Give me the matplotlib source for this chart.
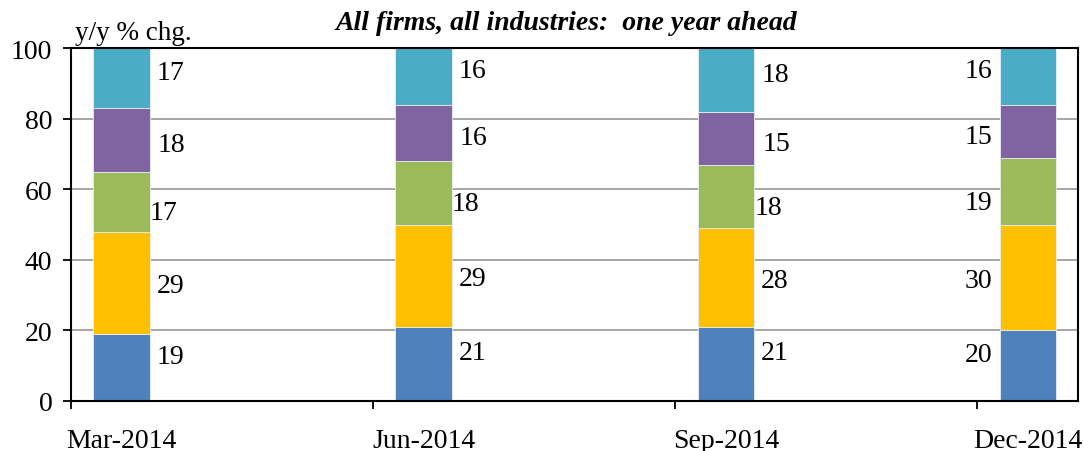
import matplotlib
matplotlib.use("Agg")
import matplotlib.pyplot as plt
import numpy as np

categories = ["Mar-2014", "Jun-2014", "Sep-2014", "Dec-2014"]
series_blue = [19, 21, 21, 20]
series_orange = [29, 29, 28, 30]
series_green = [17, 18, 18, 19]
series_purple = [18, 16, 15, 15]
series_teal = [17, 16, 18, 16]
yticks = [0, 20, 40, 60, 80, 100]

series = [series_blue, series_orange, series_green, series_purple, series_teal]
colors = ["#4F81BD", "#FFC000", "#9BBB59", "#8064A2", "#4BACC6"]
# label styling offsets (pixels): vertical shift (positive = down), horizontal gap
label_dy_px = [-11, 3, 11, 5, -6]
label_dx_px = [7, 7, 0, 8, 7]

plt.rcParams['font.family'] = ['Liberation Serif', 'DejaVu Serif']

fig = plt.figure(figsize=(10.84, 4.52), dpi=100)
ax = fig.add_axes([0.0655, 0.1113, 0.9292, 0.7796])

n = len(categories)
base = np.arange(n)
bar_off = 0.1676
bar_w = 0.1875
xc = base + bar_off

bottom = np.zeros(n)
for vals, col, dy, dx in zip(series, colors, label_dy_px, label_dx_px):
    vals = np.array(vals, dtype=float)
    ax.bar(xc, vals, bar_w, bottom=bottom, color=col, edgecolor="#e8eef6",
           linewidth=0.6, zorder=3)
    mids = bottom + vals / 2
    for i in range(n):
        if i == n - 1:
            xoff = -7 * 0.72
            ha = 'right'
            xp = xc[i] - bar_w / 2
        else:
            xoff = dx * 0.72
            ha = 'left'
            xp = xc[i] + bar_w / 2
        ax.annotate(f"{int(vals[i])}", (xp, mids[i]), xytext=(xoff, -dy * 0.72),
                    textcoords='offset points', ha=ha, va='center',
                    fontsize=20, color='black', zorder=4)
    bottom = bottom + vals

ax.set_xlim(0, 3.334)
ax.set_ylim(0, 100)
ax.set_yticks(yticks)
ax.set_yticklabels([str(t) for t in yticks], fontsize=20)
ax.yaxis.grid(True, color="#a6a6a6", linewidth=1.4, zorder=0)
ax.set_axisbelow(True)

ax.set_xticks(xc)
ax.set_xticklabels(categories, fontsize=20)
ax.set_xticks(base, minor=True)
ax.tick_params(axis='x', which='major', length=0, pad=19.5)
ax.tick_params(axis='x', which='minor', length=6, width=1.3, direction='out')
ax.tick_params(axis='y', which='major', length=5.5, width=1.3, direction='out', pad=8)

for s in ax.spines.values():
    s.set_linewidth(1.5)
    s.set_color('black')
    s.set_zorder(5)

fig.text(75 / 1084, 1 - 34 / 452, "y/y % chg.", fontsize=19.5, ha='left', va='center')
fig.text(566 / 1084, 1 - 23 / 452, "All firms, all industries:  one year ahead",
         fontsize=20, fontweight='bold', fontstyle='italic', ha='center', va='center')

fig.savefig("out.png", dpi=100)
